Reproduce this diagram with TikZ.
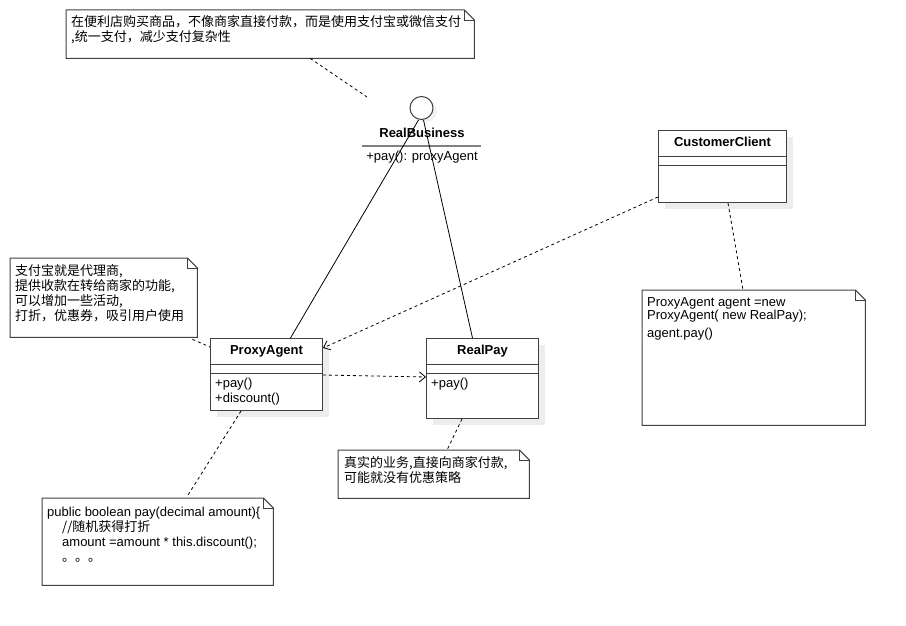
\documentclass[tikz,border=0pt]{standalone}
\usepackage{fontspec}
\setmainfont{Liberation Sans}
\newfontfamily\cjk{Noto Sans CJK SC}
\usetikzlibrary{positioning,calc,shadows,arrows.meta}

\begin{document}
\begin{tikzpicture}[x=1pt,y=-1pt,>={Straight Barb[length=6pt,width=10pt]},
  font=\fontsize{13}{15}\selectfont,
  classbox/.style={draw=black!75,line width=1pt,fill=white,anchor=north west,inner sep=0pt,
    drop shadow={shadow xshift=6pt,shadow yshift=-6pt,fill=black!7,opacity=1}},
  notebox/.style={anchor=north west,inner sep=0pt},
  notetext/.style={anchor=base west,inner sep=0pt,align=left},
  classname/.style={font=\fontsize{13}{15}\selectfont\bfseries,inner sep=0pt},
  member/.style={anchor=base west,inner sep=0pt,align=left},
  dep/.style={dash pattern=on 3pt off 3pt,line width=0.8pt},
  assoc/.style={line width=0.8pt}]
\useasboundingbox (0,0) rectangle (906,626);
%interface
\node[circle,draw=black!75,line width=1pt,fill=white,minimum size=23pt,inner sep=0pt,
  drop shadow={shadow xshift=4pt,shadow yshift=-3pt,fill=black!5,opacity=1}] (rb) at (421.5,108) {};
\node[classname] (rb-name) at (422,133) {RealBusiness};
\draw[line width=2pt,black!50] (362,146) -- (481,146);
\node[inner sep=0pt] (rb-op) at (422,157) {+pay(): proxyAgent};
%classes
\node[classbox,minimum width=112pt,minimum height=72pt] (pa) at (210,338) {};
\node[classbox,minimum width=112pt,minimum height=80pt] (rp) at (426,338) {};
\node[classbox,minimum width=128pt,minimum height=72pt] (cc) at (658,130) {};
\foreach \c in {pa,rp,cc}{
  \draw[black!75,line width=1pt] ([yshift=-26pt]\c.north west) -- ([yshift=-26pt]\c.north east);
  \draw[black!75,line width=1pt] ([yshift=-35pt]\c.north west) -- ([yshift=-35pt]\c.north east);
}
\node[classname] (pa-name) at ([yshift=-13pt]pa.north) {ProxyAgent};
\node[classname] (rp-name) at ([yshift=-13pt]rp.north) {RealPay};
\node[classname] (cc-name) at ([yshift=-12pt]cc.north) {CustomerClient};
\node[member] (pa-ops) at ([xshift=5pt,yshift=-64.5pt]pa.north west) {+pay()\\+discount()};
\node[member] (rp-ops) at ([xshift=5pt,yshift=-49.5pt]rp.north west) {+pay()};
%notes
\node[notebox,minimum width=408pt,minimum height=48pt] (n1) at (66,10) {};
\node[notebox,minimum width=187pt,minimum height=79pt] (n2) at (10,258) {};
\node[notebox,minimum width=231pt,minimum height=87pt] (n3) at (42,498) {};
\node[notebox,minimum width=223pt,minimum height=135pt] (n4) at (642,290) {};
\node[notebox,minimum width=191pt,minimum height=48pt] (n5) at (338,450) {};
\foreach \n in {n1,n2,n3,n4,n5}{
  \draw[black!75,line width=1pt] (\n.north west) -- ([xshift=-10pt]\n.north east)
    -- ([yshift=-10pt]\n.north east) -- (\n.south east) -- (\n.south west) -- cycle;
  \draw[black!75,line width=0.8pt] ([xshift=-10pt]\n.north east) |- ([yshift=-10pt]\n.north east);
}
% base of a multi-line text is its last line
\node[notetext] (n1-text) at (71,42) {\cjk 在便利店购买商品，不像商家直接付款，而是使用支付宝或微信支付\\\cjk ,统一支付，减少支付复杂性};
\node[notetext] (n2-text) at (15,320) {\cjk 支付宝就是代理商,\\\cjk 提供收款在转给商家的功能,\\\cjk 可以增加一些活动,\\\cjk 打折，优惠券，吸引用户使用};
\node[notetext] (n3-text) at (47,561) {public boolean pay(decimal amount)\{\\
  \hspace*{15pt}{\cjk //随机获得打折}\\
  \hspace*{15pt}amount =amount * this.discount();\\
  \hspace*{15pt}{\cjk 。。。}};
\node[notetext] (n4-text) at (647,337) {ProxyAgent agent =new\\[-2pt]ProxyAgent( new RealPay);\\[3pt]agent.pay()};
\node[notetext] (n5-text) at (344,482) {\cjk 真实的业务,直接向商家付款,\\\cjk 可能就没有优惠策略};
%connectors
\draw[assoc] ([xshift=-3pt]rb.south) -- ([xshift=24pt]pa.north);
\draw[assoc] ([xshift=2pt]rb.south) -- ([xshift=-10pt]rp.north);
\draw[dep,->] ([yshift=6pt]cc.south west) -- ([yshift=-10pt]pa.north east);
\draw[dep,->] ([yshift=-37pt]pa.north east) -- ([yshift=-39pt]rp.north west);
\coordinate (rb-tip) at (367,97);
\draw[dep] ([xshift=40pt]n1.south) -- (rb-tip);
\draw[dep] ([xshift=-5pt,yshift=-2pt]n2.south east) -- ([yshift=-9pt]pa.north west);
\draw[dep] ([xshift=31pt]pa.south west) -- ([xshift=146pt,yshift=3pt]n3.north west);
\draw[dep] ([xshift=36pt]rp.south west) -- ([xshift=109pt]n5.north west);
\draw[dep] ([xshift=70pt]cc.south west) -- ([xshift=101pt]n4.north west);
\end{tikzpicture}
\end{document}
